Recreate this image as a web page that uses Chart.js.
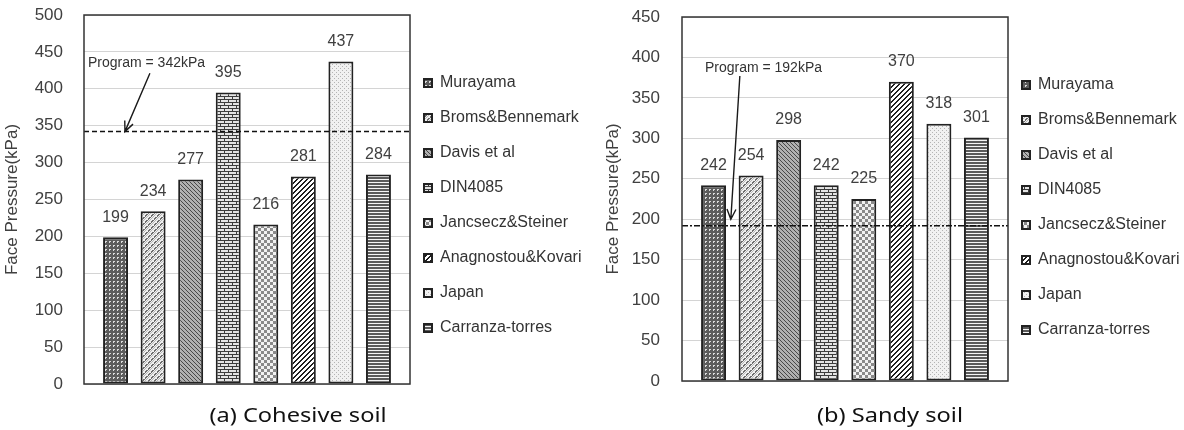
<!DOCTYPE html>
<html>
<head>
<meta charset="utf-8">
<script src="https://cdn.jsdelivr.net/npm/chart.js@4"></script>
<style>
  html, body { margin: 0; padding: 0; background: #fff; }
  #page { position: relative; width: 1184px; height: 430px; overflow: hidden; }
  .panel { position: absolute; top: 0; width: 592px; height: 430px; }
  .caption {
    position: absolute; top: 402px; width: 320px; margin-left: -160px;
    text-align: center; font-family: "Noto Sans", "Open Sans", sans-serif;
    font-size: 20px; line-height: 26px; color: #111; transform: scaleX(1.18);
  }
</style>
</head>
<body>
<div id="page">
  <div class="panel" style="left:0"><canvas id="cohesive" width="592" height="430"></canvas></div>
  <div class="panel" style="left:592px"><canvas id="sandy" width="592" height="430"></canvas></div>
  <div class="caption" style="left:298px">(a) Cohesive soil</div>
  <div class="caption" style="left:890px">(b) Sandy soil</div>
</div>
<script>
// Face pressure estimates per method (kPa)
const methods = ['Murayama', 'Broms&Bennemark', 'Davis et al', 'DIN4085',
                 'Jancsecz&Steiner', 'Anagnostou&Kovari', 'Japan', 'Carranza-torres'];
const cohesiveValues = [199, 234, 277, 395, 216, 281, 437, 284];
const sandyValues    = [242, 254, 298, 242, 225, 370, 318, 301];
const programCohesive = 342;
const programSandy = 192;
const cohesiveTicks = [0, 50, 100, 150, 200, 250, 300, 350, 400, 450, 500];
const sandyTicks    = [0, 50, 100, 150, 200, 250, 300, 350, 400, 450];

Chart.defaults.font.family = '"Liberation Sans", Arial, sans-serif';
Chart.defaults.color = '#404040';

// monochrome fill textures, one per method
function tile(w, h, paint) {
  const c = document.createElement('canvas');
  c.width = w; c.height = h;
  const g = c.getContext('2d');
  paint(g, w, h);
  return g.createPattern(c, 'repeat');
}
function px(g, color, test, w, h) {
  g.fillStyle = color;
  for (let y = 0; y < h; y++) for (let x = 0; x < w; x++) if (test(x, y)) g.fillRect(x, y, 1, 1);
}
function buildPatterns() {
  return [
    // dotted grid on dark gray
    tile(4, 4, (g, w, h) => { g.fillStyle = '#5c5c5c'; g.fillRect(0, 0, w, h);
      g.fillStyle = '#dcdcdc'; g.fillRect(1, 1, 2, 1); g.fillRect(1, 2, 1, 1); }),
    // light diagonal weave
    tile(6, 6, (g, w, h) => { g.fillStyle = '#efefef'; g.fillRect(0, 0, w, h);
      px(g, '#6e6e6e', (x, y) => (x + y) % 6 < 2 && (x - y + 12) % 6 !== 0, w, h);
      px(g, '#b8b8b8', (x, y) => (x + y) % 6 === 3, w, h); }),
    // fine downward diagonal, mid gray
    tile(4, 4, (g, w, h) => { g.fillStyle = '#b0b0b0'; g.fillRect(0, 0, w, h);
      px(g, '#484848', (x, y) => (x - y + 8) % 4 === 0, w, h); }),
    // brick
    tile(8, 6, (g, w, h) => { g.fillStyle = '#e4e4e4'; g.fillRect(0, 0, w, h);
      g.fillStyle = '#3c3c3c'; g.fillRect(0, 0, 8, 1); g.fillRect(0, 3, 8, 1);
      g.fillRect(0, 0, 1, 3); g.fillRect(4, 3, 1, 3); }),
    // small checks
    tile(6, 6, (g, w, h) => { g.fillStyle = '#f2f2f2'; g.fillRect(0, 0, w, h);
      g.fillStyle = '#8a8a8a'; g.fillRect(0, 0, 3, 3); g.fillRect(3, 3, 3, 3); }),
    // wide upward diagonal
    tile(5, 5, (g, w, h) => { g.fillStyle = '#ffffff'; g.fillRect(0, 0, w, h);
      px(g, '#1e1e1e', (x, y) => (x + y) % 5 < 2, w, h); }),
    // light dots
    tile(4, 4, (g, w, h) => { g.fillStyle = '#f1f1f1'; g.fillRect(0, 0, w, h);
      g.fillStyle = '#b4b4b4'; g.fillRect(0, 0, 1, 1); g.fillRect(2, 2, 1, 1); }),
    // horizontal lines
    tile(1, 3, (g, w, h) => { g.fillStyle = '#f4f4f4'; g.fillRect(0, 0, w, h);
      g.fillStyle = '#5a5a5a'; g.fillRect(0, 0, 1, 2); })
  ];
}

// plot frame around the chart area
const framePlugin = {
  id: 'frame',
  afterDatasetsDraw(chart) {
    const a = chart.chartArea, ctx = chart.ctx;
    ctx.save();
    ctx.strokeStyle = '#333';
    ctx.lineWidth = 1.5;
    ctx.strokeRect(a.left, a.top, a.right - a.left, a.bottom - a.top);
    ctx.restore();
  }
};

// numbers above each bar
const valueLabelPlugin = {
  id: 'valueLabels',
  afterDatasetsDraw(chart, args, opts) {
    const ctx = chart.ctx;
    ctx.save();
    ctx.font = '16px "Liberation Sans", Arial, sans-serif';
    ctx.fillStyle = '#404040';
    ctx.textAlign = 'center';
    ctx.textBaseline = 'middle';
    chart.data.datasets.forEach((ds, i) => {
      if (ds.type === 'line') return;
      const bar = chart.getDatasetMeta(i).data[0];
      ctx.fillText(String(ds.data[0].y), bar.x, bar.y - opts.gap);
    });
    ctx.restore();
  }
};

// "Program = ..." note with an arrow pointing at the dashed level
const calloutPlugin = {
  id: 'callout',
  afterDatasetsDraw(chart, args, o) {
    const xs = chart.scales.x, ys = chart.scales.y, ctx = chart.ctx;
    const P = p => [xs.getPixelForValue(p.x), ys.getPixelForValue(p.y)];
    const [tx, ty] = P(o.textAt);
    const [fx, fy] = P(o.from);
    const [hx, hy] = P(o.to);
    ctx.save();
    ctx.font = '14px "Liberation Sans", Arial, sans-serif';
    ctx.fillStyle = '#333';
    ctx.textAlign = 'left';
    ctx.textBaseline = 'middle';
    ctx.fillText(o.text, tx, ty);
    ctx.strokeStyle = '#1a1a1a';
    ctx.lineWidth = 1.4;
    ctx.beginPath();
    ctx.moveTo(fx, fy);
    ctx.lineTo(hx, hy);
    const ang = Math.atan2(hy - fy, hx - fx), len = 11, spread = 0.42;
    ctx.moveTo(hx - len * Math.cos(ang - spread), hy - len * Math.sin(ang - spread));
    ctx.lineTo(hx, hy);
    ctx.lineTo(hx - len * Math.cos(ang + spread), hy - len * Math.sin(ang + spread));
    ctx.stroke();
    ctx.restore();
  }
};

// move the legend column slightly toward the plot
const legendShiftPlugin = {
  id: 'legendShift',
  afterLayout(chart, args, o) {
    chart.legend.left += o.dx;
    chart.legend.right += o.dx;
  }
};

function makeChart(id, values, program, ticks, g) {
  const patterns = buildPatterns();
  const slots = methods.map((m, i) => i + 1);
  const datasets = methods.map((name, i) => ({
    label: name,
    data: [{ x: slots[i], y: values[i] }],
    backgroundColor: patterns[i],
    borderColor: '#222',
    borderWidth: 2,
    borderSkipped: false,
    grouped: false,
    categoryPercentage: 1,
    barPercentage: 0.665,
    order: 1
  }));
  datasets.push({
    type: 'line',
    label: 'Program',
    data: [{ x: g.xMin, y: program }, { x: g.xMax, y: program }],
    borderColor: '#111',
    borderWidth: 1.5,
    borderDash: g.dash,
    pointRadius: 0,
    fill: false,
    order: 0
  });

  return new Chart(document.getElementById(id), {
    type: 'bar',
    data: { datasets },
    options: {
      responsive: false,
      animation: false,
      devicePixelRatio: 1,
      layout: { padding: { top: g.padTop, bottom: g.padBottom, left: 0, right: 0 } },
      scales: {
        x: {
          type: 'linear',
          min: g.xMin,
          max: g.xMax,
          offset: false,
          display: true,
          afterBuildTicks: s => { s.ticks = slots.map(v => ({ value: v })); },
          ticks: { display: false },
          grid: { display: false },
          border: { display: false },
          afterFit: s => { s.height = g.xHeight; }
        },
        y: {
          min: ticks[0],
          max: ticks[ticks.length - 1],
          afterBuildTicks: s => { s.ticks = ticks.map(v => ({ value: v })); },
          ticks: { padding: g.tickPad, color: '#404040', font: { size: 17 } },
          grid: { color: '#d4d4d4', lineWidth: 1, drawTicks: false },
          border: { display: false },
          title: {
            display: true,
            text: 'Face Pressure(kPa)',
            color: '#404040',
            font: { size: 17 },
            padding: { top: g.titlePad, bottom: 0 }
          },
          afterFit: s => { s.width = g.axisWidth; s.paddingTop = 0; s.paddingBottom = 0; }
        }
      },
      plugins: {
        legend: {
          position: 'right',
          align: 'center',
          maxWidth: g.legendWidth,
          labels: {
            boxWidth: 8,
            boxHeight: 8,
            padding: 19,
            color: '#333',
            font: { size: 16 },
            filter: item => item.datasetIndex < methods.length
          }
        },
        tooltip: { enabled: false },
        valueLabels: { gap: 20 },
        callout: {
          text: 'Program = ' + program + 'kPa',
          textAt: g.textAt, from: g.from, to: g.to
        },
        legendShift: { dx: -5 }
      }
    },
    plugins: [framePlugin, valueLabelPlugin, calloutPlugin, legendShiftPlugin]
  });
}

makeChart('cohesive', cohesiveValues, programCohesive, cohesiveTicks, {
  padTop: 15, padBottom: 34, xHeight: 12, xMin: 0.16, xMax: 8.84,
  axisWidth: 84, tickPad: 21, titlePad: 2.5, legendWidth: 182,
  dash: [5, 3],
  textAt: { x: 0.266, y: 435 }, from: { x: 1.915, y: 421 }, to: { x: 1.25, y: 342 }
});

makeChart('sandy', sandyValues, programSandy, sandyTicks, {
  padTop: 17, padBottom: 32, xHeight: 17, xMin: 0.16, xMax: 8.84,
  axisWidth: 90, tickPad: 22, titlePad: 11, legendWidth: 176,
  dash: [6, 2, 2, 2],
  textAt: { x: 0.77, y: 387 }, from: { x: 1.70, y: 377 }, to: { x: 1.46, y: 200 }
});
</script>
</body>
</html>
